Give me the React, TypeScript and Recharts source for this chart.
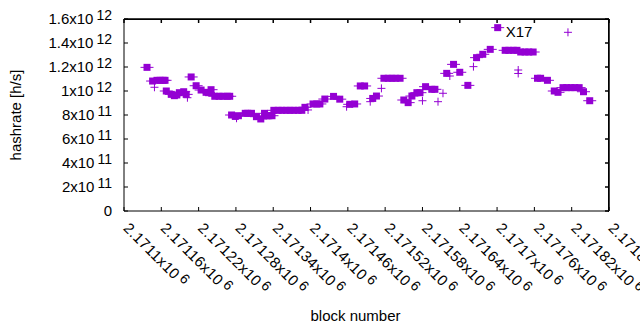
import { ScatterChart, Scatter, XAxis, YAxis, Label } from "recharts";

const COLOR = "#9400d3";
const FONT = "'Liberation Sans', Arial, sans-serif";

// block numbers on the x axis
const blockTicks = [
  2171100, 2171160, 2171220, 2171280, 2171340, 2171400, 2171460,
  2171520, 2171580, 2171640, 2171700, 2171760, 2171820, 2171880,
];

// hashrate ticks, in 10^12 h/s
const rateTicks = [0, 0.2, 0.4, 0.6, 0.8, 1.0, 1.2, 1.4, 1.6];

// filled square samples
const squareBlocks = [
  2171137, 2171146, 2171153, 2171158, 2171163, 2171166, 2171168, 2171176, 2171181, 2171185,
  2171189, 2171196, 2171200, 2171208, 2171216, 2171224, 2171232, 2171236, 2171240, 2171246,
  2171253, 2171259, 2171266, 2171270, 2171273, 2171279, 2171284, 2171295, 2171299, 2171305,
  2171313, 2171320, 2171326, 2171330, 2171333, 2171338, 2171341, 2171348, 2171354, 2171361,
  2171367, 2171373, 2171380, 2171386, 2171391, 2171404, 2171410, 2171415, 2171423, 2171437,
  2171447, 2171463, 2171471, 2171480, 2171487, 2171500, 2171506, 2171518, 2171525, 2171531,
  2171537, 2171544, 2171550, 2171557, 2171563, 2171571, 2171576, 2171585, 2171595, 2171600,
  2171619, 2171630, 2171640, 2171653, 2171667, 2171677, 2171689, 2171701, 2171713, 2171719,
  2171726, 2171732, 2171738, 2171745, 2171751, 2171758, 2171765, 2171770, 2171781, 2171792,
  2171798, 2171806, 2171812, 2171819, 2171825, 2171832, 2171839, 2171849,
];
const squareRates = [
  1.197, 1.083, 1.089, 1.089, 1.089, 1.089, 1.0, 0.972, 0.961, 0.967,
  0.986, 0.994, 0.972, 1.117, 1.044, 1.008, 0.989, 0.986, 1.011, 0.956,
  0.956, 0.956, 0.956, 0.956, 0.8, 0.788, 0.794, 0.814, 0.814, 0.814,
  0.786, 0.767, 0.814, 0.794, 0.794, 0.794, 0.839, 0.839, 0.839, 0.839,
  0.839, 0.839, 0.839, 0.839, 0.864, 0.892, 0.892, 0.892, 0.933, 0.955,
  0.932, 0.889, 0.892, 1.042, 1.042, 0.938, 0.958, 1.106, 1.106, 1.106,
  1.106, 1.106, 0.925, 0.903, 0.958, 0.986, 0.986, 1.036, 1.014, 1.014,
  1.147, 1.222, 1.156, 1.047, 1.278, 1.306, 1.347, 1.528, 1.339, 1.339,
  1.339, 1.339, 1.325, 1.325, 1.325, 1.325, 1.106, 1.106, 1.089, 1.0,
  0.989, 1.028, 1.028, 1.028, 1.028, 1.028, 0.994, 0.919,
];

// plus-shaped samples
const plusBlocks = [
  2171149, 2171202, 2171281, 2171396, 2171458, 2171496, 2171514, 2171580,
  2171605, 2171613, 2171624, 2171662, 2171734, 2171734, 2171814,
];
const plusRates = [
  1.031, 0.944, 0.773, 0.842, 0.869, 0.911, 1.022, 0.919,
  0.911, 0.981, 1.125, 1.203, 1.175, 1.146, 1.489,
];

const tagBlock = 2171701;
const tagText = "X17";

const squares = squareBlocks.map((b, i) => ({
  block: b,
  rate: squareRates[i],
  tag: b === tagBlock ? tagText : undefined,
}));
const pluses = plusBlocks.map((b, i) => ({ block: b, rate: plusRates[i] }));

const X_DOMAIN = [2171100, 2171880];
const Y_DOMAIN = [0, 1.6];

function SquareMark(props: any) {
  const { cx, cy, payload } = props;
  return (
    <g>
      <line x1={cx - 6.5} x2={cx + 6.5} y1={cy} y2={cy} stroke={COLOR} strokeWidth={1} />
      <rect x={cx - 3.5} y={cy - 3.5} width={7} height={7} fill={COLOR} />
      {payload.tag && (
        <text x={cx + 8} y={cy + 9} fontSize={15} fontFamily={FONT} fill="#000">
          {payload.tag}
        </text>
      )}
    </g>
  );
}

function PlusMark(props: any) {
  const { cx, cy } = props;
  return (
    <g stroke={COLOR} strokeWidth={1}>
      <line x1={cx - 4} x2={cx + 4} y1={cy} y2={cy} />
      <line x1={cx} x2={cx} y1={cy - 4} y2={cy + 4} />
    </g>
  );
}

function YTick({ x, y, payload }: any) {
  const v = payload.value;
  if (v === 0) {
    return (
      <text x={x} y={y + 5} textAnchor="end" fontSize={15} fontFamily={FONT} fill="#000">
        0
      </text>
    );
  }
  const exp = v >= 1 ? 12 : 11;
  const mant = parseFloat((v >= 1 ? v : v * 10).toFixed(1)).toString();
  return (
    <text x={x} y={y + 5} textAnchor="end" fontSize={15} fontFamily={FONT} fill="#000">
      {mant}x10
      <tspan dx={3} dy={-4} fontSize={14}>
        {exp}
      </tspan>
    </text>
  );
}

function XTick({ x, y, payload }: any) {
  const mant = parseFloat((payload.value / 1e6).toFixed(5)).toString();
  const ax = x - 1.5;
  return (
    <text
      x={ax}
      y={y}
      transform={`rotate(45, ${ax}, ${y})`}
      fontSize={15}
      fontFamily={FONT}
      fill="#000"
      letterSpacing={0.4}
    >
      {mant}x10
      <tspan dx={3} dy={-4} fontSize={14}>
        6
      </tspan>
    </text>
  );
}

const NoTick = () => <g />;

const layer = { position: "absolute" as const, left: 0, top: 0 };

export default function App() {
  return (
    <div style={{ position: "absolute", left: 0, top: 0, width: 640, height: 330, overflow: "hidden", background: "#fff" }}>
      {/* bottom / left axes with the square samples */}
      <div style={layer}>
        <ScatterChart width={640} height={330} margin={{ top: 19, right: 31, bottom: 0, left: 0 }}>
          <XAxis
            type="number"
            dataKey="block"
            domain={X_DOMAIN}
            ticks={blockTicks}
            interval={0}
            height={119}
            tickSize={-4}
            tickMargin={22}
            tick={XTick}
            stroke="#000"
          >
            <Label
              content={(p: any) => (
                <text
                  x={p.viewBox.x + p.viewBox.width / 2 - 11}
                  y={321}
                  textAnchor="middle"
                  fontSize={15}
                  fontFamily={FONT}
                  fill="#000"
                >
                  block number
                </text>
              )}
            />
          </XAxis>
          <YAxis
            type="number"
            dataKey="rate"
            domain={Y_DOMAIN}
            ticks={rateTicks}
            interval={0}
            width={124}
            tickSize={-4}
            tickMargin={16}
            tick={YTick}
            stroke="#000"
          >
            <Label
              content={() => (
                <text
                  x={21}
                  y={115}
                  transform="rotate(-90, 21, 115)"
                  textAnchor="middle"
                  fontSize={15}
                  fontFamily={FONT}
                  fill="#000"
                >
                  hashrate [h/s]
                </text>
              )}
            />
          </YAxis>
          <Scatter data={squares} shape={SquareMark} isAnimationActive={false} />
        </ScatterChart>
      </div>
      {/* mirrored top / right axes with the plus samples */}
      <div style={layer}>
        <ScatterChart width={640} height={330} margin={{ top: 18, right: 30, bottom: 119, left: 124 }}>
          <XAxis
            orientation="top"
            type="number"
            dataKey="block"
            domain={X_DOMAIN}
            ticks={blockTicks}
            interval={0}
            height={1}
            tickSize={-4}
            tick={NoTick}
            stroke="#000"
            strokeWidth={1.5}
          />
          <YAxis
            orientation="right"
            type="number"
            dataKey="rate"
            domain={Y_DOMAIN}
            ticks={rateTicks}
            interval={0}
            width={1}
            tickSize={-4}
            tick={NoTick}
            stroke="#000"
            strokeWidth={1.5}
          />
          <Scatter data={pluses} shape={PlusMark} isAnimationActive={false} />
        </ScatterChart>
      </div>
      {/* plot frame, top and right edges */}
      <div
        style={{
          position: "absolute",
          left: 124,
          top: 19,
          width: 484,
          height: 192,
          borderTop: "1px solid #000",
          borderRight: "1px solid #000",
          pointerEvents: "none",
        }}
      />
    </div>
  );
}
